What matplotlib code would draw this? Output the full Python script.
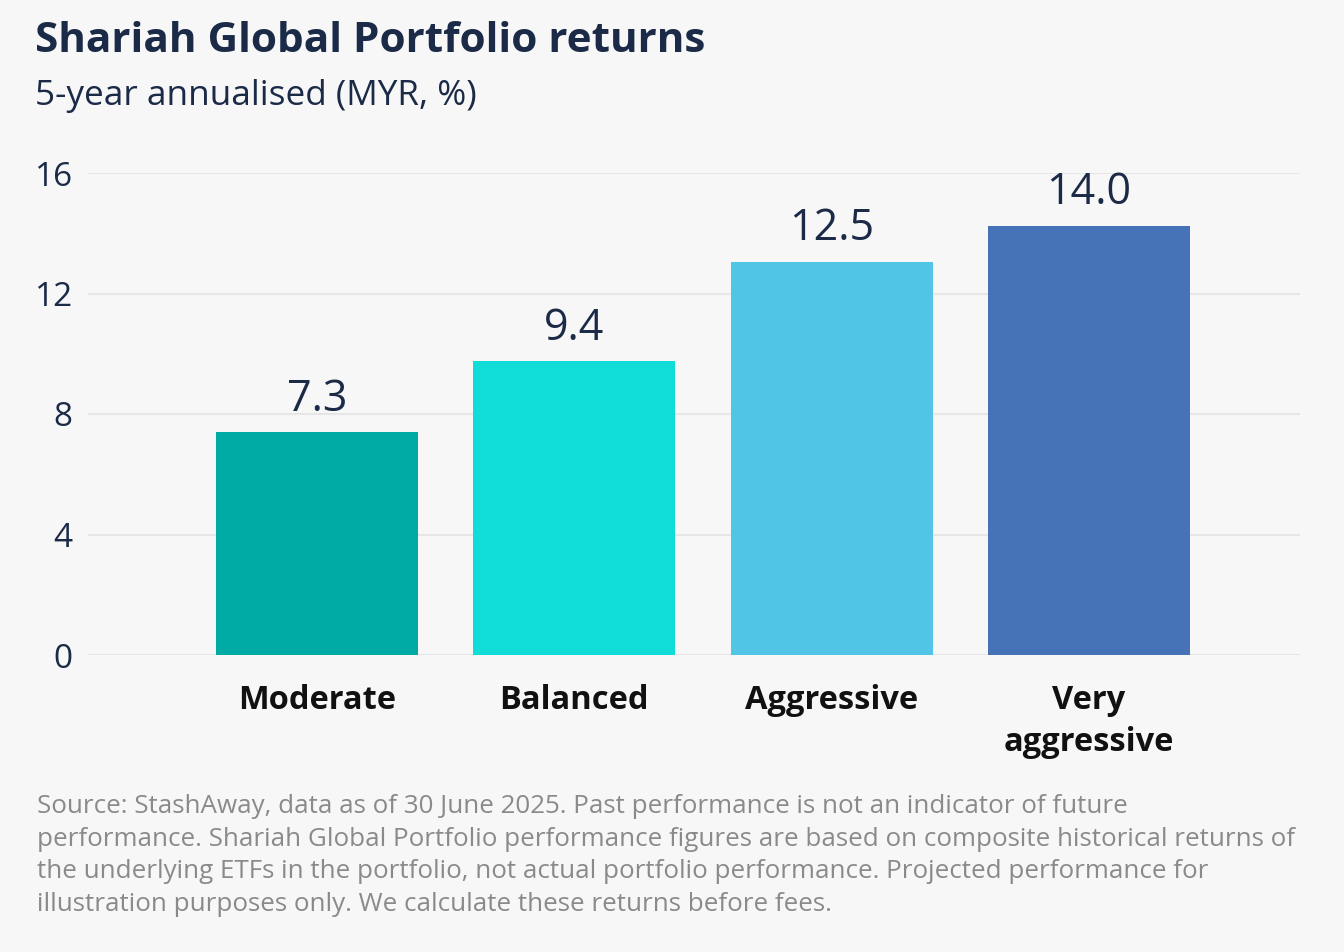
import matplotlib.pyplot as plt

# data
categories = ['Moderate', 'Balanced', 'Aggressive', 'Very\naggressive']
value_labels = ['7.3', '9.4', '12.5', '14.0']
bar_heights = [7.4, 9.75, 13.05, 14.25]   # heights as drawn in the picture
y_ticks = [0, 4, 8, 12, 16]

colors = ['#00aba5', '#10ddd8', '#50c5e5', '#4672b8']
navy = '#1b2a47'
bg = '#f7f7f7'

plt.rcParams['font.family'] = ['Open Sans', 'DejaVu Sans']

fig = plt.figure(figsize=(13.44, 9.52), dpi=100, facecolor=bg)
ax = fig.add_axes([88 / 1344, 1 - 655 / 952, (1300 - 88) / 1344, (655 - 173) / 952])
ax.set_facecolor(bg)

x = list(range(len(categories)))
bars = ax.bar(x, bar_heights, width=0.786, color=colors, zorder=2)
for bar, lab in zip(bars, value_labels):
    ax.text(bar.get_x() + bar.get_width() / 2, bar.get_height() + 0.35, lab,
            ha='center', va='bottom', fontsize=31, color=navy)

ax.set_xlim(-0.89, 3.82)
ax.set_ylim(0, 16)
ax.set_yticks(y_ticks)
ax.set_yticklabels([str(t) for t in y_ticks], fontsize=24, color=navy)
ax.set_xticks(x)
ax.set_xticklabels(categories, fontsize=23.5, fontweight='bold', color='#111111',
                   linespacing=1.35, va='top')
ax.tick_params(axis='both', length=0)
ax.tick_params(axis='y', pad=11)
ax.tick_params(axis='x', pad=21)
ax.grid(axis='y', color='#e6e6e6', linewidth=1.5, zorder=0)
for s in ax.spines.values():
    s.set_visible(False)

fig.text(35 / 1344, 1 - 42 / 952, 'Shariah Global Portfolio returns', fontsize=30.4,
         fontweight='bold', color=navy, va='center')
fig.text(35 / 1344, 1 - 96 / 952, '5-year annualised (MYR, %)', fontsize=25.3,
         color=navy, va='center')

footnote = ('Source: StashAway, data as of 30 June 2025. Past performance is not an indicator of future\n'
            'performance. Shariah Global Portfolio performance figures are based on composite historical returns of\n'
            'the underlying ETFs in the portfolio, not actual portfolio performance. Projected performance for\n'
            'illustration purposes only. We calculate these returns before fees.')
fig.text(37 / 1344, 1 - 794 / 952, footnote, fontsize=18.7, color='#8a8a8a',
         va='top', linespacing=1.4)

fig.savefig('out.png', dpi=100, facecolor=bg)
